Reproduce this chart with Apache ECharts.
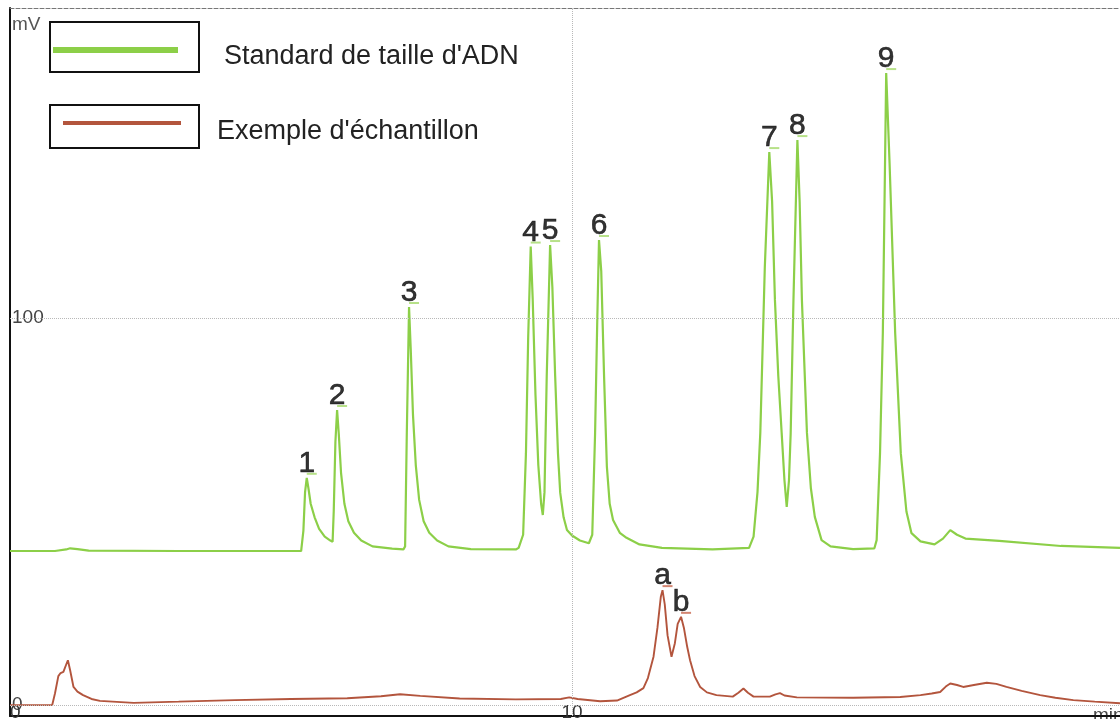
<!DOCTYPE html>
<html>
<head>
<meta charset="utf-8">
<script src="https://cdn.jsdelivr.net/npm/echarts@6/dist/echarts.min.js"></script>
<style>
  html, body { margin: 0; padding: 0; background: #fff; overflow: hidden; }
  #chart { position: absolute; left: 0; top: 0; width: 1120px; height: 719px; }
</style>
</head>
<body>
<div id="chart"></div>
<script>
// Electropherogram: DNA size ladder vs. a sample trace (time in min, signal in mV)
const seriesNames = ["Standard de taille d'ADN", "Exemple d'échantillon"];

// Size standard trace: [time (min), signal (mV)]
const standardTrace = [
  [0, 39.8], [0.8, 39.8], [1.0, 40.2], [1.07, 40.5], [1.2, 40.3], [1.4, 39.9], [3.0, 39.8], [5.18, 39.8],
  [5.22, 45], [5.25, 55], [5.28, 58.7], [5.31, 56], [5.35, 52], [5.42, 48.5], [5.5, 45.5], [5.6, 43.5], [5.7, 42.5], [5.74, 42.2],
  [5.76, 50], [5.79, 68], [5.82, 76.2], [5.85, 70], [5.89, 60], [5.95, 52], [6.02, 47.5], [6.12, 44.5], [6.25, 42.5], [6.45, 41], [6.8, 40.4], [7.0, 40.2],
  [7.03, 41], [7.06, 70], [7.10, 102.8], [7.13, 92], [7.17, 75], [7.22, 62], [7.28, 53], [7.36, 47.5], [7.46, 44.5], [7.6, 42.5], [7.8, 41], [8.2, 40.3], [9.0, 40.2],
  [9.05, 40.6], [9.13, 44], [9.18, 65], [9.22, 95], [9.265, 118.4], [9.30, 105], [9.35, 80], [9.40, 62], [9.45, 52], [9.48, 49.1],
  [9.51, 55], [9.55, 85], [9.61, 118.8], [9.65, 108], [9.70, 85], [9.75, 65], [9.79, 54.8], [9.85, 48.5], [9.91, 45.2], [10.0, 43.8], [10.14, 42.5], [10.3, 41.8],
  [10.36, 44], [10.41, 70], [10.45, 100], [10.48, 120.1], [10.52, 112], [10.57, 85], [10.62, 61.6], [10.67, 52], [10.73, 47.8], [10.85, 44.5], [10.97, 43.2],
  [11.2, 41.5], [11.6, 40.6], [12.5, 40.2], [13.15, 40.6],
  [13.23, 43.5], [13.30, 55], [13.35, 70.3], [13.43, 113], [13.51, 142.8], [13.56, 130], [13.61, 104.7], [13.67, 85], [13.73, 70.3], [13.78, 58], [13.82, 51.2],
  [13.86, 58], [13.89, 70], [13.94, 104.7], [14.01, 145.9], [14.05, 130], [14.09, 104.7], [14.18, 70.3], [14.25, 56], [14.32, 48.6], [14.44, 42.6], [14.6, 41], [15.0, 40.3],
  [15.38, 40.5], [15.42, 42.6], [15.48, 65], [15.53, 96], [15.59, 163.2], [15.65, 140], [15.75, 96], [15.85, 65], [15.95, 50], [16.04, 44.4], [16.2, 42.3],
  [16.45, 41.5], [16.6, 43], [16.73, 45.2], [16.85, 44], [17.0, 43], [17.6, 42.4], [18.7, 41.1], [19.75, 40.6]
];

// Sample trace: [time (min), signal (mV)]
const sampleTrace = [
  [0, 0], [0.75, 0], [0.80, 3], [0.86, 7.5], [0.90, 8.3], [0.95, 8.6], [1.0, 10.5], [1.03, 11.6], [1.07, 9], [1.13, 4.7], [1.20, 3.5], [1.30, 2.6],
  [1.45, 1.6], [1.60, 1.1], [2.2, 0.6], [3.0, 0.9], [4.0, 1.3], [5.0, 1.6], [6.0, 1.8], [6.6, 2.3], [6.94, 2.8], [7.3, 2.4], [8.0, 1.7], [9.0, 1.5],
  [9.8, 1.6], [9.95, 2.0], [10.1, 1.6], [10.5, 1.0], [10.8, 1.2], [11.03, 2.6], [11.15, 3.3], [11.27, 4.4], [11.35, 7], [11.45, 12.5], [11.52, 20],
  [11.58, 28], [11.61, 29.7], [11.65, 26], [11.70, 18], [11.77, 12.5], [11.83, 16], [11.88, 21], [11.94, 22.8], [11.99, 20], [12.05, 15], [12.10, 11.6],
  [12.18, 7.5], [12.28, 4.7], [12.40, 3.3], [12.57, 2.6], [12.86, 2.2], [12.96, 3.2], [13.05, 4.3], [13.13, 3.2], [13.23, 2.2], [13.52, 2.2], [13.62, 2.8],
  [13.70, 3.1], [13.78, 2.5], [14.0, 2.0], [15.0, 1.9], [15.84, 2.1], [16.2, 2.6], [16.4, 3.0], [16.55, 3.4], [16.65, 4.8], [16.73, 5.6], [16.85, 5.2],
  [16.96, 4.7], [17.15, 5.2], [17.38, 5.8], [17.55, 5.5], [17.73, 4.7], [18.0, 3.7], [18.33, 2.6], [18.6, 1.9], [18.92, 1.3], [19.3, 0.9], [19.75, 0.5]
];

// Peak annotations (apex times; heights are taken from the traces)
const standardPeakNames = ['1', '2', '3', '4', '5', '6', '7', '8', '9'];
const standardPeakTimes = [5.28, 5.82, 7.10, 9.265, 9.61, 10.48, 13.51, 14.01, 15.59];
const samplePeakNames = ['a', 'b'];
const samplePeakTimes = [11.61, 11.94];

// Axis ticks and ranges
const timeTicks = [0, 10];
const mvTicks = [0, 100];
const timeRange = [0, 19.75];
const mvRange = [-2.8, 180];

const FONT = '"Liberation Sans", Arial, sans-serif';
const GREEN = '#8ccf48';
const RED = '#b3553d';

function peakPoints(trace, names, times) {
  return names.map((name, i) => ({ name, value: trace.find(p => p[0] === times[i]) }));
}

function peakSeries(trace, names, times, dashColor) {
  return {
    type: 'scatter',
    silent: true,
    z: 4,
    symbol: 'rect',
    symbolSize: [10, 2],
    symbolOffset: [5, -4],
    itemStyle: { color: dashColor },
    data: peakPoints(trace, names, times),
    label: {
      show: true,
      position: 'inside',
      offset: [-5, -10],
      formatter: '{b}',
      fontFamily: FONT,
      fontSize: 30,
      color: '#000',
      textBorderColor: '#000',
      textBorderWidth: 0.6
    }
  };
}

// Boxed legend entries: swatch inside a framed box, caption beside it
function legendEntry(box, swatch, color, caption, textX, textY) {
  return [
    { type: 'rect', shape: box, style: { fill: null, stroke: '#111', lineWidth: 2 }, z: 10 },
    { type: 'rect', shape: swatch, style: { fill: color }, z: 10 },
    {
      type: 'text', x: textX, y: textY, z: 10,
      style: { text: caption, font: '27px ' + FONT, fill: '#222', textVerticalAlign: 'middle', verticalAlign: 'middle' }
    }
  ];
}

const chart = echarts.init(document.getElementById('chart'), null, { renderer: 'canvas' });

chart.setOption({
  animation: false,
  backgroundColor: '#fff',
  grid: { left: 10, right: 0, top: 8, bottom: 3, containLabel: false, outerBoundsMode: 'none' },
  graphic: [].concat(
    legendEntry({ x: 50, y: 22, width: 149, height: 50 }, { x: 53, y: 47, width: 125, height: 6 }, GREEN, seriesNames[0], 224, 57),
    legendEntry({ x: 50, y: 105, width: 149, height: 43 }, { x: 63, y: 121, width: 118, height: 4 }, RED, seriesNames[1], 217, 132)
  ),
  xAxis: [
    {
      type: 'value',
      min: timeRange[0], max: timeRange[1],
      name: 'min', nameLocation: 'end', nameGap: -27,
      nameTextStyle: { fontFamily: FONT, fontSize: 19, color: '#444', verticalAlign: 'middle', padding: [0, 0, 14, 0] },
      axisLine: { show: true, onZero: false, lineStyle: { color: '#111', width: 2 } },
      axisTick: { show: false },
      splitLine: { show: false },
      axisLabel: {
        inside: true, margin: -6, customValues: timeTicks,
        alignMinLabel: 'left',
        fontFamily: FONT, fontSize: 19, color: '#333'
      }
    },
    {
      type: 'value', position: 'top',
      min: timeRange[0], max: timeRange[1],
      axisLine: { show: true, onZero: false, lineStyle: { color: '#777', width: 1, type: 'dashed' } },
      axisTick: { show: false }, axisLabel: { show: false }, splitLine: { show: false }
    }
  ],
  yAxis: {
    type: 'value',
    min: mvRange[0], max: mvRange[1],
    name: 'mV', nameLocation: 'end', nameGap: -7,
    nameTextStyle: { fontFamily: FONT, fontSize: 19, color: '#555', align: 'left', verticalAlign: 'top', padding: [0, 0, 0, 2] },
    axisLine: { show: true, onZero: false, lineStyle: { color: '#111', width: 2 } },
    axisTick: { show: false },
    splitLine: { show: false },
    axisLabel: {
      inside: true, margin: 2, customValues: mvTicks,
      fontFamily: FONT, fontSize: 19, color: '#444'
    }
  },
  series: [
    {
      // dotted reference lines at 0 mV, 100 mV and 10 min
      type: 'line', name: 'guides', data: [], silent: true, z: 1,
      markLine: {
        silent: true, symbol: ['none', 'none'], label: { show: false },
        lineStyle: { type: 'dotted', color: '#b8b8b8', width: 1 },
        data: [{ yAxis: mvTicks[0] }, { yAxis: mvTicks[1] }, { xAxis: timeTicks[1] }]
      }
    },
    {
      type: 'line', name: seriesNames[0], data: standardTrace,
      showSymbol: false, z: 3,
      color: GREEN,
      lineStyle: { color: GREEN, width: 2.2 }
    },
    {
      type: 'line', name: seriesNames[1], data: sampleTrace,
      showSymbol: false, z: 3,
      color: RED,
      lineStyle: { color: RED, width: 1.9 }
    },
    peakSeries(standardTrace, standardPeakNames, standardPeakTimes, '#a5da6c'),
    peakSeries(sampleTrace, samplePeakNames, samplePeakTimes, '#c8664e')
  ]
});
</script>
</body>
</html>
